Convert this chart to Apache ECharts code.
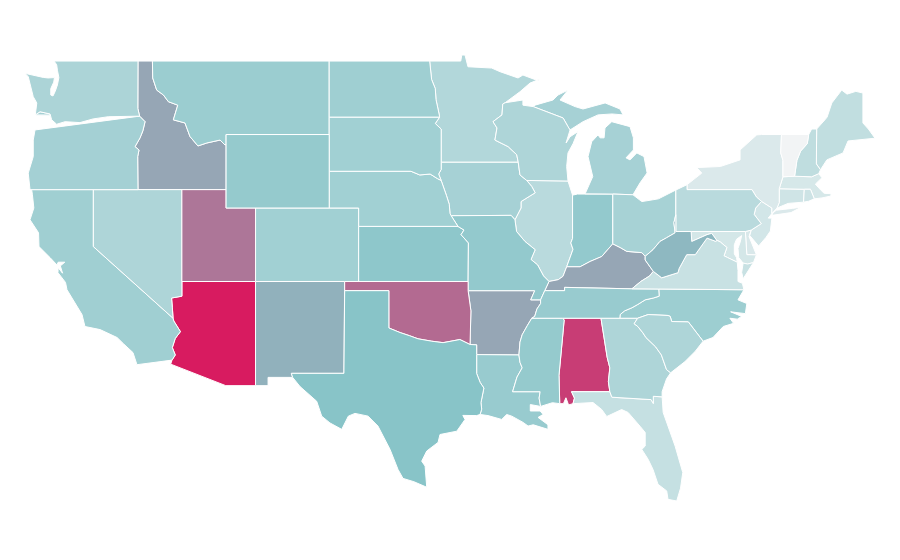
<!DOCTYPE html>
<html>
<head>
<meta charset="utf-8">
<style>html,body{margin:0;background:#fff}#main{width:900px;height:560px}</style>
<script src="https://cdn.jsdelivr.net/npm/echarts@6/dist/echarts.min.js"></script>
</head>
<body>
<div id="main"></div>
<script>
// state values, read from the shade of each state
var stateNames = ['Alabama','Arizona','Arkansas','California','Colorado','Connecticut','Delaware','Florida','Georgia','Idaho','Illinois','Indiana','Iowa','Kansas','Kentucky','Louisiana','Maine','Maryland','Massachusetts','Michigan','Minnesota','Mississippi','Missouri','Montana','Nebraska','Nevada','New Hampshire','New Jersey','New Mexico','New York','North Carolina','North Dakota','Ohio','Oklahoma','Oregon','Pennsylvania','Rhode Island','South Carolina','South Dakota','Tennessee','Texas','Utah','Vermont','Virginia','Washington','West Virginia','Wisconsin','Wyoming'];
var stateValues = [90,100,59,38.5,38,16.5,12,21,32,59,27,45,36,47,59,42.5,23,14,13,36,30,44,45,41,38,32,24,15,55.6,11,40,39,35.5,76.6,37,27,17.5,32,38,42.5,50,73,0,20,33,53.5,32,44];
var shadeColors = ['#f2f4f5','#88c4c8','#d81b60'];

// shared borders in lon/lat
var columbia = [[-116.92,46],[-119.05,45.97],[-120.08,45.85],[-120.97,45.65],[-121.98,45.7],[-122.55,45.56],[-122.89,45.8],[-123,46.12],[-123.68,46.24],[-124,46.07]];
var snake = [[-116.92,46],[-116.55,45.7],[-116.7,45.2],[-116.89,44.82],[-117.23,44.34],[-116.96,44.16],[-117.05,43.8],[-117.03,42]];
var idMt = [[-116.05,49],[-116.03,48.08],[-115.76,47.42],[-115.3,47.15],[-114.97,46.79],[-114.33,46.6],[-114.63,45.8],[-113.84,45.63],[-113.5,44.89],[-112.96,44.38],[-112.36,44.54],[-111.46,44.7],[-111.12,44.43],[-111.05,44.47]];
var azRiver = [[-114.05,36.2],[-114.75,36.1],[-114.7,35.6],[-114.65,35]];
var azCa = [[-114.65,35],[-114.6,34.85],[-114.15,34.27],[-114.5,33.9],[-114.7,33.4],[-114.5,33],[-114.72,32.72]];
var redNorth = [[-97.23,49],[-97.1,48],[-96.85,47.5],[-96.8,46.9],[-96.56,46],[-96.56,45.94]];
var sdMn = [[-96.56,45.94],[-96.85,45.6],[-96.45,45.3],[-96.45,43.5]];
var sdNe = [[-98.5,43],[-97.9,42.8],[-97.2,42.85],[-96.7,42.6],[-96.45,42.5]];
var sdIa = [[-96.45,42.5],[-96.62,42.85],[-96.45,43.1],[-96.45,43.5]];
var neIa = [[-96.45,42.5],[-96.1,41.7],[-95.9,41.2],[-95.85,40.7],[-95.77,40.58]];
var neMo = [[-95.77,40.58],[-95.31,40]];
var ksMo = [[-95.31,40],[-94.9,39.8],[-95.1,39.55],[-94.6,39.1]];
var redSouth = [[-100,34.47],[-99.24,34.22],[-98.6,34.05],[-98.02,33.88],[-97.09,33.75],[-96.32,33.67],[-95.18,33.84],[-94.49,33.57]];
var mnWi = [[-92.11,46.73],[-92.27,46.66],[-92.32,46.07],[-92.93,45.7],[-92.66,45.36],[-92.8,44.7],[-91.9,44.34],[-91.32,43.9],[-91.22,43.5]];
var wiIa = [[-91.22,43.5],[-91.1,42.8],[-90.64,42.5]];
var ilIa = [[-90.64,42.5],[-90.3,42.17],[-90.07,41.83],[-91.03,41.35],[-91.03,41],[-91.44,40.36]];
var ilMo = [[-91.44,40.36],[-91.33,39.72],[-90.76,39.18],[-90.07,38.73],[-90.35,38.2],[-89.9,37.9],[-89.5,37.3],[-89.13,37]];
var kyMo = [[-89.13,37],[-89.42,36.5]];
var tnMo = [[-89.42,36.5],[-89.7,36]];
var tnAr = [[-89.7,36],[-89.7,35.8],[-89.95,35.5],[-90.1,35.1],[-90.3,35]];
var msAr = [[-90.3,35],[-90.6,34.6],[-90.95,34.1],[-91.1,33.7],[-91.17,33]];
var msLa = [[-91.17,33],[-91.1,32.6],[-90.95,32.3],[-91.3,31.8],[-91.6,31],[-89.73,31],[-89.8,30.65],[-89.7,30.2]];
var ilKy = [[-89.13,37],[-88.5,37.1],[-88.18,37.28],[-87.93,37.8]];
var ilIn = [[-87.93,37.8],[-87.5,38.75],[-87.65,39.1],[-87.53,39.35],[-87.53,41.7]];
var inKy = [[-87.93,37.8],[-87.02,37.8],[-86.34,38.09],[-85.55,38.36],[-84.8,39.05]];
var ohKy = [[-84.8,39.05],[-84.3,38.85],[-83.85,38.64],[-82.83,38.57],[-82.6,38.37]];
var ohWv = [[-82.6,38.37],[-82.07,38.73],[-81.6,39.18],[-81.15,39.38],[-80.57,39.65],[-80.65,40.2],[-80.52,40.64]];
var kyWv = [[-82.6,38.37],[-82.6,38.17],[-82.05,37.55]];
var kyVa = [[-82.05,37.55],[-82.3,37.3],[-82.9,37],[-83.5,36.6]];
var tnVa = [[-83.5,36.6],[-81.68,36.59]];
var tnNc = [[-81.68,36.59],[-81.65,36.2],[-82.05,36.1],[-82.6,36],[-83.1,35.75],[-83.5,35.57],[-84,35.4],[-84.3,35.2],[-84.32,35]];
var gaSc = [[-83.11,35],[-83.35,34.7],[-83.1,34.55],[-82.75,34.2],[-82.55,33.95],[-81.9,33.45],[-81.5,33],[-81.15,32.2],[-80.87,32.03]];
var ncSc = [[-83.11,35],[-82.4,35.2],[-81.05,35.15],[-80.9,35.1],[-80.8,34.82],[-79.67,34.8],[-78.67,33.75]];
var alGa = [[-85.6,35],[-85.18,32.87],[-85,32.3],[-85.1,31.55],[-85,31]];
var gaFl = [[-85,31],[-84.86,30.7],[-82.2,30.57],[-82.05,30.36],[-82.05,30.75],[-81.45,30.72]];
var alFl = [[-87.6,31],[-87.4,30.65],[-87.5,30.35]];
var alMs = [[-88.2,35],[-88.1,34.9],[-88.45,31.9],[-88.4,30.35]];
var wvVa = [[-82.05,37.55],[-81.93,37.48],[-81.48,37.2],[-80.37,37.48],[-80.3,37.7],[-79.78,38.46],[-79.2,38.46],[-78.4,39.36],[-77.79,39.18],[-77.75,39.25]];
var mdWv = [[-77.75,39.25],[-78.08,39.62],[-78.4,39.55],[-79.44,39.18],[-79.48,39.72]];
var mdVa = [[-77.75,39.25],[-77.5,39.15],[-77.05,38.85],[-77.25,38.4],[-77,38.3],[-76.35,38.05]];
var paNj = [[-74.7,41.36],[-75.1,41],[-75.2,40.65],[-74.72,40.15],[-75.4,39.8]];
var nyPa = [[-74.7,41.36],[-75.05,41.6],[-75.35,42],[-79.76,42],[-79.76,42.27]];
var nyVt = [[-73.35,45],[-73.4,44],[-73.25,43.6],[-73.25,42.7]];
var vtNh = [[-71.5,45],[-71.6,44.5],[-72.05,44.1],[-72.3,43.6],[-72.46,42.73]];
var nhMe = [[-70.96,45.3],[-70.98,43.4],[-70.7,43.08]];

function rev(a){ return a.slice().reverse(); }
function ring(){
	var pts = [];
	for(var i = 0 ; i < arguments.length ; i ++){ pts = pts.concat(arguments[i]); }
	pts.push(pts[0]);
	return pts;
}

var shapes = {
	'Washington':[ring([[-122.73,49],[-117.03,49],[-117.04,46.42]],columbia,[[-123.9,46.72],[-124.14,47.06],[-124.48,48.15],[-124.7,48.33],[-123.46,48.11],[-123.14,48.08],[-122.7,48.1],[-122.75,47.85],[-122.95,47.5],[-122.95,47.15],[-122.8,47.1],[-122.65,47.35],[-122.5,47.7],[-122.4,48.1],[-122.5,48.5],[-122.55,48.8]])],
	'Oregon':[ring(rev(columbia),[[-124.02,45.25],[-124.14,44.7],[-124.14,43.8],[-124.48,42.9],[-124.36,42]],rev(snake))],
	'Idaho':[ring([[-117.03,49]],idMt,[[-111.05,42],[-117.03,42]],rev(snake),[[-117.04,46.42]])],
	'Montana':[ring(idMt.slice(0,1),[[-104.05,49],[-104.05,45],[-111.05,45]],rev(idMt))],
	'Wyoming':[ring([[-111.05,45],[-104.05,45],[-104.05,41],[-111.05,41]])],
	'Utah':[ring([[-114.05,42],[-111.05,42],[-111.05,41],[-109.05,41],[-109.05,37],[-114.05,37]])],
	'Colorado':[ring([[-109.05,41],[-102.05,41],[-102.05,37],[-109.05,37]])],
	'New Mexico':[ring([[-109.05,37],[-103,37],[-103.05,32],[-106.62,32],[-106.53,31.78],[-108.2,31.78],[-108.2,31.33],[-109.05,31.33]])],
	'Arizona':[ring([[-114.05,37],[-109.05,37],[-109.05,31.33],[-111.07,31.33],[-114.81,32.5]],rev(azCa),rev(azRiver))],
	'Nevada':[ring([[-120.06,42],[-114.05,42]],azRiver,[[-120.06,38.9]])],
	'California':[ring([[-124.25,42],[-120.06,42],[-120.06,38.9]],azCa,[[-117.1,32.47],[-117.37,33.13],[-118,33.6],[-118.45,33.95],[-119.6,34.38],[-120.63,34.55],[-120.83,35.2],[-121.85,36.55],[-121.95,36.95],[-122.46,37.48],[-122.45,37.75],[-122.15,37.45],[-122.3,37.85],[-122,38.05],[-122.45,38.05],[-122.53,37.9],[-123,38.3],[-123.75,38.9],[-123.78,39.65],[-124.36,40.36],[-124.1,41],[-124.2,41.75]])],
	'North Dakota':[ring([[-104.05,49]],redNorth,[[-104.05,45.94]])],
	'South Dakota':[ring([[-104.05,45.94]],sdMn,rev(sdIa),rev(sdNe),[[-104.05,43]])],
	'Nebraska':[ring([[-104.05,43]],sdNe,neIa,neMo,[[-102.05,40],[-102.05,41],[-104.05,41]])],
	'Kansas':[ring([[-102.05,40]],ksMo,[[-94.62,37],[-102.05,37]])],
	'Oklahoma':[ring([[-103,37],[-94.62,37],[-94.62,36.5],[-94.43,35.4]],rev(redSouth),[[-100,36.5],[-103,36.5]])],
	'Texas':[ring([[-106.62,32],[-103.05,32],[-103,36.5],[-100,36.5]],redSouth,[[-94.04,33.55],[-94.04,33.02],[-94.04,31.99],[-93.8,31.5],[-93.55,31.2],[-93.75,30.4],[-93.7,30.05],[-93.81,29.76],[-94.04,29.7],[-94.98,29.71],[-94.83,29.49],[-95.39,28.85],[-96.53,28.67],[-96.66,28.24],[-97.43,27.77],[-97.77,27.22],[-97.54,26.95],[-97.43,25.8],[-98.3,26.1],[-99.04,26.28],[-99.38,26.77],[-99.92,27.86],[-100.74,29.13],[-101.41,29.67],[-102.3,29.82],[-102.75,29.67],[-103.2,28.95],[-104,29.3],[-104.56,29.67],[-104.9,30.48],[-106.03,31.28],[-106.53,31.78]])],
	'Minnesota':[ring([[-97.23,49],[-95.12,49],[-95.05,49.33],[-94.83,49.33],[-94.63,48.69],[-93.02,48.62],[-92.45,48.42],[-91.23,48.08],[-90.9,48.24],[-89.87,47.93],[-89.74,48.02],[-90.42,47.8],[-91.1,47.33]],mnWi,[[-96.45,43.5]],rev(sdMn),rev(redNorth))],
	'Wisconsin':[ring([[-92.11,46.73],[-90.9,46.88],[-90.9,46.6],[-90.2,46.52],[-88.17,45.9],[-87.84,45.43],[-87.7,45.25],[-87.97,44.54],[-87.7,44.88],[-87.16,45.16],[-87.5,44.5],[-87.84,44],[-87.93,43.26],[-87.84,42.47]],rev(wiIa),rev(mnWi))],
	'Iowa':[ring([[-96.45,43.5]],wiIa,ilIa,[[-91.7,40.6]],rev(neIa),sdIa)],
	'Illinois':[ring([[-90.64,42.5],[-87.84,42.47],[-87.53,41.7]],rev(ilIn),rev(ilKy),rev(ilMo),rev(ilIa))],
	'Missouri':[ring([[-95.77,40.58],[-91.7,40.6]],ilMo,kyMo,tnMo,[[-90.37,36],[-90.1,36.5],[-94.62,36.5],[-94.62,37]],rev(ksMo),rev(neMo))],
	'Arkansas':[ring([[-94.62,36.5],[-90.1,36.5],[-90.37,36]],tnAr,msAr,[[-94.04,33.02],[-94.04,33.55],[-94.49,33.57],[-94.43,35.4]])],
	'Louisiana':[ring([[-94.04,33.02]],msLa,[[-90.4,30.3],[-90.4,29.95],[-89.73,29.95],[-89.53,29.76],[-89.87,29.6],[-89.2,29.2],[-89.2,28.95],[-90.2,29.2],[-90.55,29.13],[-90.89,29.33],[-91.66,29.67],[-92,29.76],[-92.34,29.49],[-93.27,29.7],[-93.81,29.76],[-93.7,30.05],[-93.75,30.4],[-93.55,31.2],[-93.8,31.5],[-94.04,31.99]])],
	'Mississippi':[ring([[-90.3,35]],alMs,[[-88.9,30.4]],rev(msLa),rev(msAr))],
	'Alabama':[ring([[-88.2,35]],alGa,alFl,[[-87.8,30.28],[-87.98,30.67],[-88.15,30.35]],rev(alMs))],
	'Georgia':[ring([[-85.6,35]],gaSc,[[-81.15,31.7],[-81.45,31]],rev(gaFl),rev(alGa))],
	'Florida':[ring([[-87.6,31]],gaFl,[[-81.38,29.87],[-80.57,28.04],[-80.05,26.6],[-80.2,25.75],[-80.46,25.05],[-81.05,25.14],[-81.14,25.6],[-81.73,25.96],[-82.07,26.77],[-82.4,27.32],[-82.83,27.86],[-82.6,28.04],[-82.6,28.78],[-82.95,29.12],[-83.76,29.87],[-84.2,30.03],[-85.21,29.65],[-85.55,30.03],[-86.14,30.41],[-87.5,30.35],[-87.4,30.65]])],
	'South Carolina':[ring(ncSc,[[-79.2,33.2],[-79.9,32.64]],rev(gaSc))],
	'North Carolina':[ring([[-84.32,35]],ncSc,[[-78,33.95],[-77.3,34.55],[-76.6,34.72],[-76.85,35],[-76.35,34.95],[-76.05,35.1],[-76.8,35.35],[-75.8,35.25],[-75.7,35.8],[-76.3,36],[-75.9,36.55]],tnNc)],
	'Tennessee':[ring(tnAr,[[-88.2,35],[-85.6,35],[-84.32,35]],rev(tnNc),rev(tnVa),[[-88.07,36.68],[-88.07,36.5]],tnMo)],
	'Kentucky':[ring([[-89.42,36.5],[-88.07,36.5],[-88.07,36.68]],rev(kyVa),rev(kyWv),rev(ohKy),rev(inKy),rev(ilKy))],
	'Indiana':[ring([[-87.53,41.7],[-87.2,41.76],[-84.8,41.76]],rev(inKy),ilIn)],
	'Ohio':[ring([[-84.8,41.76],[-83.43,41.72],[-82.83,41.35],[-82.07,41.45],[-81.7,41.5],[-80.52,41.98],[-80.52,40.64]],rev(ohWv),rev(ohKy))],
	'West Virginia':[ring(ohWv,[[-80.52,39.72]],rev(mdWv),rev(wvVa),rev(kyWv))],
	'Virginia':[ring([[-75.9,36.55]],rev(tnVa),rev(kyVa),wvVa,mdVa,[[-76.3,37.6],[-76.3,37],[-76,36.9]]),ring([[-75.65,37.95],[-75.25,38.03],[-75.95,37.15],[-76.05,37.5],[-75.95,38]])],
	'Maryland':[ring([[-79.48,39.72],[-75.8,39.72],[-75.7,38.46],[-75.05,38.45],[-75.25,38.03],[-75.65,37.95],[-75.95,38],[-76.25,38.3],[-76.3,38.8],[-76.15,39.15],[-76.05,39.5],[-76.4,39.3],[-76.55,39],[-76.55,38.5],[-76.4,38.3]],rev(mdVa),mdWv)],
	'Delaware':[ring([[-75.8,39.72],[-75.4,39.8],[-75.55,39.45],[-75.05,38.45],[-75.7,38.46]])],
	'Pennsylvania':[ring([[-80.52,41.98],[-79.76,42.27]],rev(nyPa),paNj,[[-75.8,39.72],[-80.52,39.72],[-80.52,40.64]])],
	'New Jersey':[ring(rev(paNj),[[-74,41],[-74,40.7],[-74.25,40.45],[-74,40.45],[-74.1,39.75],[-74.4,39.4],[-74.9,38.93],[-75.5,39.5]])],
	'New York':[ring([[-79.76,42.27],[-78.76,42.9],[-79.1,43.2],[-77.5,43.26],[-76.16,43.62],[-76.16,44.16],[-75.03,44.98],[-74.7,45]],nyVt,[[-73.5,42.05],[-73.5,41.3],[-73.65,41],[-74,40.7],[-74,41]],nyPa),ring([[-74,40.6],[-73.92,40.74],[-73.7,40.88],[-72.6,40.98],[-72,41.05],[-72.7,40.75]])],
	'Vermont':[ring(nyVt.slice(0,1),vtNh,rev(nyVt))],
	'New Hampshire':[ring([[-71.5,45],[-71.3,45.3]],nhMe,[[-70.82,42.87],[-71.3,42.7]],rev(vtNh))],
	'Maine':[ring([[-70.96,45.3],[-70.4,45.8],[-70.25,45.95],[-69.93,46.72],[-69.26,47.42],[-68.9,47.2],[-68.3,47.35],[-67.82,47.26],[-67.82,45.63],[-67.45,45.3],[-67,44.8],[-68.83,44.65],[-69.17,44],[-70.27,43.62]],rev(nhMe))],
	'Massachusetts':[ring([[-73.5,42.05],[-73.25,42.7],[-72.46,42.73],[-71.3,42.7],[-70.82,42.87],[-70.6,42.65],[-71.05,42.3],[-70.65,41.95],[-70.45,41.8],[-69.98,41.78],[-70,41.65],[-70.6,41.55],[-71.12,41.5],[-71.38,42.02],[-71.8,42.02]])],
	'Connecticut':[ring([[-73.5,42.05],[-71.8,42.02],[-71.85,41.32],[-72.9,41.25],[-73.65,41],[-73.5,41.3]])],
	'Rhode Island':[ring([[-71.8,42.02],[-71.38,42.02],[-71.12,41.5],[-71.5,41.37],[-71.85,41.32]])],
	'Michigan':[ring([[-86.68,41.77],[-84.8,41.76],[-83.43,41.72],[-82.95,42.37],[-82.47,42.91],[-82.68,43.8],[-83.17,44],[-83.63,43.62],[-83.9,43.73],[-83.4,44.16],[-83.4,44.82],[-83.63,45.43],[-84.87,45.7],[-85.33,45.36],[-85.39,44.82],[-85.66,44.82],[-85.8,44.98],[-86.23,44.61],[-86.48,43.8],[-86.16,42.71]]),ring([[-90.2,46.52],[-88.17,45.9],[-87.84,45.43],[-87.7,45.25],[-86.82,45.7],[-85.8,46.07],[-84.85,46.12],[-84.1,46.07],[-84.31,46.39],[-85.32,46.72],[-86.82,46.39],[-87.36,46.52],[-88.38,46.88],[-87.84,47.42],[-88.52,47.15],[-88.86,46.88],[-90.08,46.6]])]
};

var features = [];
for(var i = 0 ; i < stateNames.length ; i ++){
	var rings = shapes[stateNames[i]];
	var polys = [];
	for(var j = 0 ; j < rings.length ; j ++){ polys.push([rings[j]]); }
	features.push({type:'Feature',properties:{name:stateNames[i]},geometry:{type:'MultiPolygon',coordinates:polys}});
}
echarts.registerMap('USA',{type:'FeatureCollection',features:features});

var seriesData = [];
for(var k = 0 ; k < stateNames.length ; k ++){
	seriesData.push({name:stateNames[k],value:stateValues[k]});
}

var option = {
	backgroundColor:'#fff',
	animation:false,
	visualMap:{
		show:false,
		min:0,
		max:100,
		inRange:{color:shadeColors}
	},
	series:[{
		type:'map',
		map:'USA',
		silent:true,
		roam:false,
		selectedMode:false,
		aspectScale:0.8,
		left:25,
		top:55,
		width:850,
		height:446,
		label:{show:false},
		itemStyle:{borderColor:'#fff',borderWidth:1},
		data:seriesData
	}]
};
echarts.init(document.getElementById('main')).setOption(option);
</script>
</body>
</html>
